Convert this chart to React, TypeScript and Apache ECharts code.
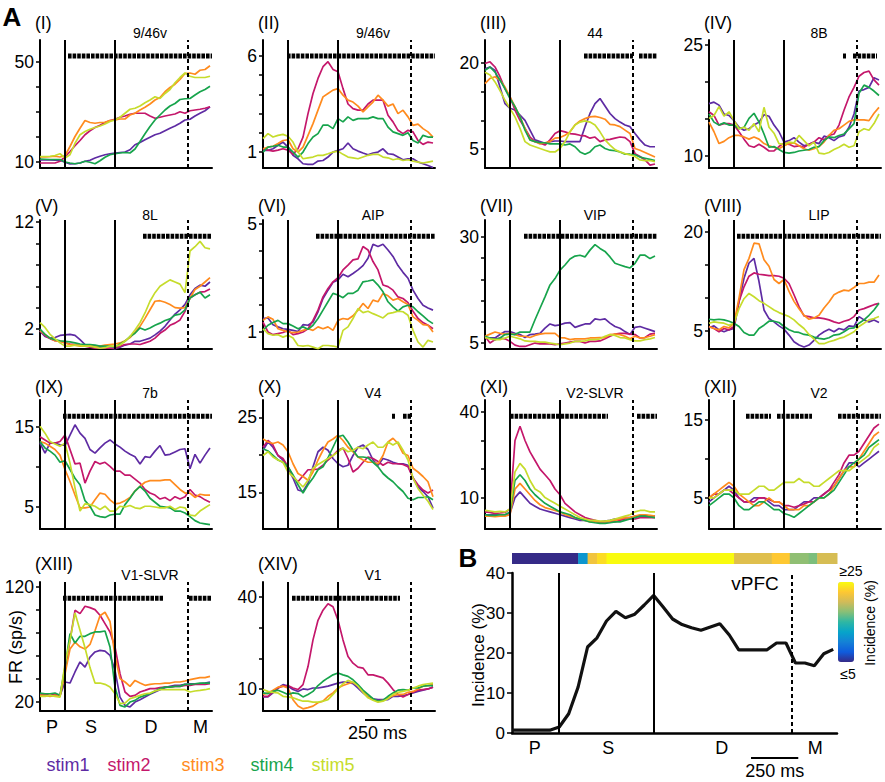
import React, { useEffect, useRef } from "react";
import * as echarts from "echarts";

const FONT = "'Liberation Sans', Arial, Helvetica, sans-serif";

// time grid (ms) for each trace sample
const TIMES = [0, 50, 100, 150, 200, 250, 300, 350, 400, 450, 500, 550, 600, 650, 700, 750, 800, 850, 900, 950, 1000, 1050, 1100, 1150, 1200, 1250, 1300, 1350, 1400, 1450, 1500, 1550, 1600, 1650, 1700];
const T_END = 1720;
const EVENT_S = 250;
const EVENT_D = 750;
const EVENT_M = 1480;

const STIM_NAMES = ["stim1", "stim2", "stim3", "stim4", "stim5"];
const STIM_COLORS = ["#5e2ba3", "#c4176b", "#ff8b1e", "#17a44c", "#c6dc2c"];

const PANEL_IDS = ["(I)", "(II)", "(III)", "(IV)", "(V)", "(VI)", "(VII)", "(VIII)", "(IX)", "(X)", "(XI)", "(XII)", "(XIII)", "(XIV)"];
const AREAS = ["9/46v", "9/46v", "44", "8B", "8L", "AIP", "VIP", "LIP", "7b", "V4", "V2-SLVR", "V2", "V1-SLVR", "V1"];
const Y_MIN = [7.6, 0.17, 1.7, 8.4, 0.13, 0.37, 3.6, 2.3, 2.25, 10.1, -1, 1, 12.2, 2.8];
const Y_MAX = [58.8, 6.83, 24, 25.7, 12.2, 5.15, 34, 21.8, 18.4, 27.3, 44.2, 17.6, 124.3, 44.9];
const Y_TICKS = [
  [10, 20, 30, 40, 50], [1, 2, 3, 4, 5, 6], [5, 10, 15, 20], [10, 15, 20, 25],
  [2, 4, 6, 8, 10, 12], [1, 2, 3, 4, 5], [5, 10, 15, 20, 25, 30], [5, 10, 15, 20],
  [5, 10, 15], [15, 20, 25], [10, 20, 30, 40], [5, 10, 15],
  [20, 40, 60, 80, 100, 120], [10, 20, 30, 40],
];
const Y_LABELS = [[10, 50], [1, 6], [5, 20], [10, 25], [2, 12], [1, 5], [5, 30], [5, 20], [5, 15], [15, 25], [10, 40], [5, 15], [20, 120], [10, 40]];
// significant time windows (ms)
const SIG = [
  [[280, 1720]], [[240, 1720]], [[990, 1480], [1540, 1720]], [[1340, 1370], [1440, 1680]],
  [[1030, 1720]], [[530, 1720]], [[390, 1720]], [[280, 1720]],
  [[230, 1720]], [[1290, 1320], [1400, 1480]], [[250, 1230], [1520, 1720]], [[370, 620], [680, 1030], [1290, 1720]],
  [[230, 1230], [1490, 1720]], [[290, 1370]],
];
const SIG_LEVEL = 0.875;

// stim1..stim5 per panel (sp/s)
const panelI = [
  [10.8, 10.8, 10.8, 10.7, 10.7, 9.9, 9.2, 9.3, 9.6, 10.3, 10.7, 11.6, 12.3, 12.9, 13.3, 13.6, 13.8, 14.0, 14.9, 16.9, 17.8, 18.9, 19.9, 20.9, 21.5, 22.5, 23.5, 24.4, 25.5, 26.8, 27.1, 28.4, 29.5, 30.5, 32.1],
  [9.6, 9.6, 9.6, 9.6, 10.3, 12, 14.2, 16.5, 18.6, 20.9, 22.5, 23.8, 24.7, 25.8, 26.6, 27.1, 27.9, 28.4, 29.1, 29.5, 29.5, 29.5, 28.4, 27.5, 27.9, 28.4, 28.8, 29.2, 30.1, 29.5, 30.5, 30.8, 31.1, 31.5, 32.1],
  [12, 12, 12.1, 12.3, 12, 12.5, 16.2, 20.2, 23.5, 26.6, 25.8, 25.5, 25.8, 25.9, 26.6, 26.8, 27.2, 27.2, 28.8, 29.5, 30.8, 31.9, 33.2, 34.8, 35.8, 38.1, 39.8, 41.1, 43, 45.4, 45.6, 45.1, 46.7, 47, 48.5],
  [11.2, 11.1, 11, 11, 11, 10, 9.6, 9.3, 9.6, 10.3, 9.9, 9.3, 10.5, 11.9, 12.9, 13.3, 13.6, 13.8, 13.6, 15.2, 18.2, 21.3, 24.2, 26.8, 28.8, 30.8, 32.4, 33.4, 35, 35.3, 35.4, 36.8, 38.1, 39, 40.3],
  [12.2, 12.2, 12.3, 12.6, 13.3, 11.6, 12.9, 17.5, 20.9, 22.2, 23.1, 23.8, 24.4, 25.2, 26.2, 26.8, 27.9, 29.5, 31.1, 31.5, 32.4, 33.7, 34.8, 36.1, 35.4, 37.4, 39, 41.7, 43.8, 45.6, 44.3, 43.8, 43.8, 43.8, 44.3],
];
const panelII = [
  [1.09, 1.09, 1.17, 1.35, 1.52, 1.26, 0.83, 0.65, 0.39, 0.36, 0.36, 0.53, 0.56, 0.74, 1.0, 1.09, 1.17, 1.47, 1.17, 1.05, 0.95, 0.86, 0.95, 1.0, 1.17, 0.91, 0.88, 0.74, 0.6, 0.65, 0.65, 0.48, 0.39, 0.3, 0.2],
  [1.17, 1.1, 1.05, 1.1, 1.17, 1.1, 0.88, 1.17, 1.78, 3.0, 4.05, 4.83, 5.44, 5.7, 5.3, 5.18, 4.3, 3.5, 3.26, 3.18, 3.18, 3.5, 3.7, 3.7, 3.7, 2.92, 2.57, 2.13, 1.96, 2.13, 2.05, 1.6, 1.4, 1.52, 1.47],
  [1.17, 1.26, 1.3, 1.44, 1.6, 1.64, 1.17, 1.0, 1.26, 1.87, 2.48, 3.18, 3.87, 4.05, 4.22, 4.3, 3.96, 3.7, 3.6, 3.39, 3.09, 3.35, 3.6, 3.96, 3.7, 3.39, 3.5, 3.0, 3.18, 2.83, 2.39, 2.45, 2.22, 2.05, 1.78],
  [1.0, 1.26, 1.3, 1.35, 1.26, 1.26, 1.0, 0.74, 1.0, 1.44, 1.78, 1.96, 2.4, 2.4, 2.22, 2.74, 2.57, 2.83, 2.65, 2.74, 2.74, 2.74, 2.83, 2.74, 2.74, 2.3, 2.05, 1.96, 1.87, 2.0, 1.6, 1.47, 1.87, 1.78, 1.78],
  [1.7, 1.96, 1.78, 1.87, 1.92, 1.82, 1.52, 1.0, 0.65, 0.7, 0.74, 0.83, 0.83, 0.91, 1.0, 1.05, 0.88, 0.74, 0.7, 0.65, 0.74, 0.83, 0.88, 0.88, 0.74, 0.7, 0.6, 0.65, 0.56, 0.6, 0.53, 0.48, 0.43, 0.48, 0.53],
];
const panelIII = [
  [19, 19.3, 18.7, 15.8, 12.9, 12.1, 11.8, 10.9, 10, 8.3, 6.6, 6.3, 6.0, 6.3, 6.4, 6.4, 6.3, 6.3, 6.3, 6.3, 8.9, 11.2, 12.9, 13.8, 12.5, 11.2, 10.3, 9.7, 9.2, 8.9, 7.7, 6.6, 5.7, 5.4, 5.4],
  [19.9, 20.2, 19.3, 17.6, 15.5, 14.1, 11.8, 10, 8.6, 7.1, 6.3, 6.0, 5.7, 6.6, 7.7, 8.2, 8.0, 7.7, 7.6, 7.4, 7.3, 6.9, 7.1, 6.3, 6.6, 6.7, 6.9, 7.1, 7.0, 6.3, 4.2, 3.7, 3.1, 2.2, 2.4],
  [16.4, 17.3, 17.6, 17, 15.8, 14.1, 12.4, 10.6, 8.6, 6.6, 6.3, 5.9, 6.1, 6.3, 6.9, 7, 7.4, 8, 9.2, 9.9, 10.3, 10.6, 10.7, 10.5, 10.2, 9.3, 9.2, 8.9, 8.3, 7.7, 5.1, 4.8, 4.4, 4.0, 3.6],
  [18.7, 19.3, 18.4, 17, 15.5, 13.8, 12.4, 10.6, 8.3, 6.6, 6.3, 6.1, 6.1, 5.9, 5.9, 5.9, 5.7, 5.9, 5.4, 4.5, 4.1, 4.5, 5.4, 5.7, 5.1, 4.8, 4.7, 4.5, 4.1, 4.1, 4.0, 3.6, 3.4, 3.2, 3.0],
  [18.4, 17.9, 16.7, 15.2, 13.5, 12.1, 10.6, 8.6, 6.3, 5.7, 5.4, 5.1, 4.8, 4.5, 4.5, 5.1, 6.3, 8, 9.2, 9.7, 9.9, 9.7, 9.2, 8, 6.6, 5.7, 4.9, 4.5, 4.2, 4.0, 3.7, 3.1, 3.0, 3.0, 2.8],
];
const panelIV = [
  [17.1, 17.3, 16.9, 15.7, 15.5, 14.8, 13.9, 13.5, 13.7, 14.2, 14.6, 15.6, 15.4, 14.2, 13.3, 11.9, 12.1, 12.5, 11.9, 11.4, 11.6, 11.9, 11.7, 12.7, 12.5, 12.1, 12.6, 12.8, 13.9, 15.7, 18.8, 19, 19.3, 20.6, 20.3],
  [16, 15.5, 14.2, 14.4, 14.4, 14.2, 13.3, 12.3, 11.4, 11.2, 11.6, 11.2, 10.7, 10.7, 11.3, 11.8, 11.6, 11.3, 11.4, 11.2, 11.6, 11.9, 12.5, 12.2, 12.8, 13, 14.2, 16.2, 18, 19.3, 20.8, 21.3, 21.5, 20.3, 19.6],
  [14.6, 13.3, 11.7, 12, 12.5, 12.8, 12.8, 12.6, 12.3, 12.6, 12.3, 11.7, 11.4, 11.2, 11, 11.4, 11.7, 11.8, 11.4, 11, 10.8, 11, 11.3, 11.9, 12.8, 13.5, 13.7, 14.2, 14.7, 14.9, 14.9, 14.9, 14.8, 15.8, 16.6],
  [15.7, 14.6, 14.2, 14.5, 14.2, 14.2, 13.7, 13.9, 15.1, 15.8, 14.6, 13, 11.2, 11.3, 10.9, 10.5, 10.4, 10.5, 10.7, 10.8, 10.9, 11.2, 11.3, 12.1, 12.6, 12.5, 12.8, 13, 13.7, 14.4, 18.5, 19.6, 19.3, 18.8, 18.2],
  [15.1, 15.5, 16.7, 15.4, 16, 14.8, 13.7, 13.9, 13.5, 14.4, 13.3, 16.6, 13.9, 13.1, 11.7, 11.6, 11.9, 11.8, 12.8, 12.1, 11.4, 11.9, 10.4, 10.3, 10.5, 10.9, 11.2, 11.6, 11.2, 11.4, 13.3, 13.7, 13.5, 14.4, 15.7],
];
const panelV = [
  [1.8, 1.3, 1.15, 1.2, 1.4, 1.45, 1.5, 1.4, 1.0, 0.55, 0.5, 0.4, 0.3, 0.2, 0.2, 0.15, 0.3, 0.5, 0.6, 0.85, 0.85, 1.0, 1.15, 1.45, 1.8, 2.25, 2.85, 3.4, 3.8, 4.3, 5.2, 5.8, 6.1, 6.0, 6.4],
  [1.85, 1.4, 1.1, 0.9, 0.85, 0.7, 0.6, 0.55, 0.5, 0.4, 0.3, 0.2, 0.2, 0.2, 0.2, 0.2, 0.4, 0.55, 0.6, 0.6, 0.55, 0.7, 0.85, 1.15, 1.6, 1.9, 2.35, 2.55, 2.85, 3.65, 4.9, 5.2, 5.45, 5.5, 5.75],
  [1.85, 1.5, 1.15, 0.9, 0.85, 0.7, 0.55, 0.5, 0.4, 0.4, 0.4, 0.4, 0.4, 0.5, 0.55, 0.6, 0.7, 0.9, 1.2, 1.7, 2.25, 3.0, 3.8, 4.6, 4.65, 4.5, 4.3, 4.0, 3.95, 4.0, 4.9, 5.7, 6.0, 6.4, 6.8],
  [2.0, 1.5, 1.15, 1.0, 0.9, 0.85, 0.8, 0.7, 0.6, 0.55, 0.55, 0.5, 0.4, 0.4, 0.4, 0.3, 0.6, 0.85, 1.3, 1.6, 2.1, 1.9, 2.1, 2.35, 2.55, 2.8, 2.95, 3.3, 3.4, 3.8, 4.9, 5.2, 5.45, 4.9, 5.2],
  [2.6, 2.15, 1.5, 1.1, 0.7, 0.4, 0.4, 0.5, 0.45, 0.4, 0.4, 0.3, 0.2, 0.25, 0.4, 0.4, 0.5, 0.85, 1.3, 1.9, 2.6, 3.5, 4.6, 5.4, 6.0, 6.3, 6.6, 6.4, 6.2, 5.4, 9.3, 9.7, 10.2, 9.6, 9.5],
];
const panelVI = [
  [1.5, 1.52, 1.27, 1.19, 1.12, 1.1, 1.06, 1.02, 1.27, 1.25, 1.37, 1.75, 2.24, 2.55, 2.84, 2.93, 3.14, 3.05, 3.17, 3.3, 3.46, 3.73, 4.25, 4.17, 4.25, 4.04, 3.8, 3.46, 3.21, 2.99, 2.55, 2.24, 1.99, 1.89, 1.81],
  [1.37, 1.0, 0.9, 0.94, 0.98, 1.06, 0.9, 0.94, 1.0, 1.12, 1.43, 1.81, 2.3, 2.61, 2.86, 3.01, 3.3, 3.48, 3.67, 3.71, 4.17, 4.04, 3.61, 3.3, 2.74, 2.68, 2.55, 2.3, 2.24, 2.09, 1.77, 1.5, 1.35, 1.25, 1.12],
  [1.43, 1.56, 1.47, 1.12, 1.06, 1.0, 0.98, 1.0, 1.06, 1.12, 1.06, 1.19, 1.12, 1.19, 1.06, 1.43, 1.5, 1.47, 1.6, 1.81, 2.06, 1.87, 2.18, 2.12, 2.43, 2.34, 2.18, 2.24, 2.12, 2.02, 1.56, 1.43, 1.27, 1.25, 1.0],
  [1.06, 1.25, 1.35, 1.43, 1.31, 1.31, 1.22, 1.12, 1.19, 1.1, 1.25, 1.5, 1.81, 2.12, 2.43, 2.37, 2.27, 2.43, 2.43, 2.55, 2.86, 2.89, 2.93, 2.74, 2.49, 2.12, 1.93, 1.77, 1.93, 1.99, 1.93, 1.75, 1.6, 1.43, 1.31],
  [1.12, 0.94, 0.88, 0.9, 0.81, 0.88, 0.78, 0.5, 0.48, 0.5, 0.44, 0.38, 0.5, 0.5, 0.48, 0.44, 1.06, 1.19, 1.5, 1.87, 1.72, 1.77, 1.68, 1.6, 1.52, 1.68, 1.72, 1.77, 1.75, 1.62, 1.06, 0.63, 0.44, 0.69, 0.63],
];
const panelVII = [
  [6.2, 6.2, 6.2, 7.0, 7.7, 7.7, 7.3, 7.0, 6.3, 7.0, 7.1, 7.3, 8.5, 9.5, 9.1, 9.3, 9.7, 9.8, 8.7, 9.1, 9.5, 9.5, 10.7, 10.5, 10.7, 9.7, 8.9, 8.5, 7.7, 7.0, 8.7, 8.9, 8.5, 8.1, 7.7],
  [6.6, 5.0, 5.8, 6.2, 6.0, 5.4, 4.5, 4.2, 4.2, 4.6, 5.0, 4.8, 4.8, 4.8, 4.6, 4.8, 5.0, 5.2, 5.4, 5.4, 5.0, 5.4, 5.4, 5.5, 6.0, 6.6, 7.1, 7.3, 7.3, 7.1, 7.0, 6.2, 6.3, 7.1, 7.3],
  [6.6, 7.1, 7.6, 7.3, 7.1, 7.3, 7.0, 6.6, 6.6, 6.3, 6.8, 7.1, 7.3, 7.3, 7.3, 6.3, 6.2, 5.8, 6.0, 6.0, 6.0, 6.2, 6.2, 6.3, 6.3, 7.0, 7.1, 7.0, 6.6, 6.0, 6.6, 6.2, 6.3, 6.6, 7.0],
  [6.6, 6.2, 5.8, 6.2, 7.0, 7.1, 7.0, 7.6, 7.6, 7.6, 10.5, 13.2, 15.9, 18.7, 20.2, 22.2, 23.4, 24.8, 25.5, 25.7, 25.3, 26.9, 28.2, 27.3, 26.6, 25.3, 23.8, 23.4, 23, 22.7, 23.8, 25.7, 25.7, 24.9, 25.5],
  [6.3, 6.0, 5.8, 5.8, 6.2, 6.6, 6.3, 6.0, 5.5, 5.4, 5.4, 5.2, 5.2, 5.0, 4.8, 4.6, 4.8, 5.0, 5.4, 5.4, 5.5, 5.8, 5.8, 6.0, 6.6, 7.0, 6.8, 6.3, 6.2, 5.8, 5.5, 5.5, 5.8, 6.0, 6.3],
];
const panelVIII = [
  [5.5, 5.8, 5.2, 4.9, 5.2, 5.4, 9.5, 13.0, 15.3, 16.0, 12.5, 8.2, 6.9, 6.4, 5.8, 5.3, 4.4, 3.4, 2.9, 2.6, 2.9, 3.6, 4.4, 4.9, 5.3, 4.9, 5.4, 5.2, 5.8, 5.7, 7.2, 6.7, 6.4, 6.7, 6.3],
  [5.7, 5.4, 4.9, 5.4, 5.2, 5.7, 9.5, 11.7, 13.3, 13.8, 13.6, 13.5, 13.4, 13.4, 13.3, 13, 12.2, 10.5, 8.7, 7.3, 7.2, 7.0, 7.0, 6.9, 6.7, 6.4, 6.2, 6.5, 6.7, 7.2, 8.2, 8.4, 8.7, 9.0, 9.2],
  [5.7, 5.4, 5.2, 5.7, 5.5, 6.2, 10, 14.3, 16, 18.3, 18.2, 15.8, 14.8, 12.8, 12.2, 12.8, 11, 9.5, 8.4, 7.4, 6.8, 7.0, 7.4, 8.5, 9.4, 10.5, 10.9, 11.2, 11.1, 11.6, 12.2, 12.2, 12.4, 12.4, 13.5],
  [6.8, 6.7, 6.8, 6.7, 6.5, 6.2, 5.7, 4.8, 4.4, 4.4, 5.4, 5.9, 6.5, 6.5, 6.3, 5.7, 5.2, 4.9, 4.8, 4.5, 4.4, 4.1, 3.9, 3.8, 4.0, 4.4, 4.5, 4.9, 5.4, 5.5, 6.2, 6.7, 7.4, 8.2, 9.2],
  [6.2, 6.4, 6.3, 6.2, 5.9, 6.2, 8.4, 9.9, 10.7, 10.2, 9.6, 9.2, 8.7, 8.2, 7.8, 7.5, 7.2, 6.7, 6.0, 5.4, 4.5, 3.8, 3.1, 3.1, 3.4, 3.6, 3.9, 4.1, 4.5, 4.9, 5.7, 6.2, 6.7, 6.9, 7.2],
];
const panelIX = [
  [13, 11.75, 13, 13, 12.8, 12.7, 14, 15.3, 14.25, 13.6, 12.2, 11.75, 12.4, 13, 13.4, 12.9, 12.5, 12, 11.6, 11.3, 10.4, 11.3, 11.2, 12, 12.7, 11.5, 11.6, 11.9, 12.2, 12.3, 9.8, 11.6, 10.5, 11.5, 12.4],
  [13.8, 13.4, 13, 13, 13.2, 14, 12.2, 10.4, 10.5, 8, 9.5, 10.7, 10.4, 10.6, 10.1, 9.5, 9.5, 9, 9, 8.5, 8, 7.2, 6.75, 6.5, 6, 6.2, 5.8, 6.3, 6, 6.3, 7.2, 6.5, 6.3, 5.9, 5.6],
  [13.2, 13, 12.6, 12.2, 11.5, 9.7, 8.2, 6.5, 4.9, 4.9, 5, 5.9, 6.75, 6.6, 5.9, 5.4, 5.5, 5.8, 6.2, 7, 7.6, 8.1, 8.3, 8.3, 8.3, 8.4, 8.4, 7.8, 7.2, 6.75, 6.75, 6.2, 6.6, 6.5, 6.5],
  [13.2, 12.4, 12, 11.5, 10.6, 10.8, 9.7, 8.6, 7.8, 5.8, 5.1, 4, 3.8, 3.7, 4, 4.1, 4.1, 5.3, 6.1, 7, 7.6, 7, 6.1, 5.6, 5.1, 5, 4.9, 4.5, 4.5, 4.25, 3.8, 3.3, 3, 2.9, 2.8],
  [15.1, 14.25, 13.2, 12.9, 12.6, 13, 10.5, 7.4, 4.5, 5.4, 5.3, 5.1, 4.7, 5.1, 4.5, 4.5, 5.1, 5, 5.2, 4.9, 4.8, 5.1, 5.1, 5, 4.9, 4.9, 5.1, 4.7, 5, 4.9, 4, 3.9, 4.5, 4.9, 5.3],
];
const panelX = [
  [20.6, 21.7, 21, 19.9, 19.3, 18.2, 16.9, 15.3, 15.1, 16.2, 18.4, 20.4, 21, 20.6, 19.5, 18.8, 18.4, 18.6, 19.9, 21, 21.3, 20.7, 19.3, 18.6, 19.5, 19.3, 19, 18.8, 18.8, 18.6, 16.9, 15.7, 15.1, 14.4, 12.9],
  [21, 21.9, 21.3, 19.9, 19.5, 18.4, 17.1, 16.4, 17.2, 18, 18, 18.1, 18.6, 19.3, 19.9, 20.6, 20.9, 19.5, 17.7, 18.2, 19, 19.7, 19.5, 19.1, 18.6, 19, 18.8, 18.8, 18.7, 18.4, 16.9, 16, 15.3, 14.9, 15.3],
  [22.1, 21.7, 21.5, 21.7, 21.3, 20.4, 18.8, 17.5, 17.1, 16.6, 17.7, 19.3, 20.6, 21.7, 22.1, 22.6, 21.9, 21, 20.4, 19.7, 19.3, 19, 19, 18.8, 19.9, 21.7, 22.2, 21.5, 20.2, 19.9, 18.2, 17.7, 17.1, 16.4, 14.4],
  [20.8, 20.5, 19.9, 19.3, 19, 18.4, 17.3, 16, 14.9, 16, 16.9, 18, 18.4, 19.6, 21, 22.4, 22.6, 21.7, 20.6, 19.7, 19.7, 19.6, 19, 18.4, 17.5, 16.9, 16.4, 15.7, 15.1, 14.2, 14, 14.3, 14.3, 14.4, 14],
  [19.9, 20.4, 19.7, 19.3, 19, 17.7, 17.1, 16.4, 15.7, 16.6, 18.2, 18.7, 19.1, 19.5, 19.9, 20.4, 20.9, 20.4, 20.6, 21, 20.8, 21.3, 21.7, 21, 21, 21.7, 21.3, 21.7, 20.6, 19.3, 16.9, 15.5, 14.6, 13.8, 12.7],
];
const panelXI = [
  [4, 4, 4.2, 4, 4, 4.5, 10, 12, 10, 8, 7, 6, 5.5, 5, 4.5, 4, 3.5, 3, 2.5, 2, 2, 1.8, 1.5, 1.5, 1.8, 2, 2.5, 2.5, 3, 3, 3.5, 3.5, 3.8, 3.5, 3.5],
  [5, 4.8, 4.5, 4.6, 4.8, 6, 30, 35, 30, 26, 23, 20, 18, 16, 13, 11, 8, 6.5, 5, 4, 3, 2.5, 2, 1.5, 1.5, 1.5, 1.5, 2, 2.5, 2.5, 2.5, 3, 3, 3, 3],
  [3.5, 3.5, 3.3, 3.5, 3.5, 4, 13, 15, 13, 11, 9, 7.5, 6.5, 6, 5.5, 5, 4, 3.5, 3, 2.5, 2, 1.5, 1.5, 1.5, 1.5, 1.8, 2, 2.5, 3, 3, 3.5, 4, 4, 3.8, 3.5],
  [4, 3.8, 3.8, 4, 4, 5, 16, 18, 16, 13, 11, 9.5, 8, 7, 6, 5, 4.5, 4, 3, 2.5, 2, 1.5, 1.2, 1, 1, 1.2, 1.5, 1.5, 2, 2.5, 3, 3.5, 3.5, 3.2, 3],
  [5.5, 5.3, 5, 5.2, 5, 6, 19, 22, 20, 16, 13, 12, 10, 9, 8, 7, 6, 5, 4, 3, 2.5, 2, 2, 1.8, 1.8, 2, 2.5, 3, 3.5, 4, 5, 5.5, 5.5, 5, 5],
];
const panelXII = [
  [4.5, 5, 5.5, 6, 6.5, 6, 5, 4.5, 4.5, 5, 5, 5, 4.5, 4, 4, 3.5, 3.5, 3.5, 4, 4.5, 4.5, 5, 5, 5.5, 6, 6.5, 7.5, 8.5, 9.5, 9.5, 9, 9.5, 10, 10.5, 11],
  [5, 5.5, 5.5, 6, 6, 5.5, 5, 4.5, 4.5, 4.5, 5, 5, 4.8, 4.5, 4.5, 4, 4, 3.8, 4, 4.2, 4.5, 4.5, 5, 5.5, 6, 7, 8, 9.5, 10.5, 10.5, 11, 12, 13, 14, 14.5],
  [5, 5.5, 6, 6.5, 7, 6.5, 5.5, 5, 4.5, 4, 4, 4.5, 5, 4.5, 4.5, 4, 3.5, 3.5, 3.5, 4, 4, 4.5, 5, 5, 5.5, 6.5, 7.5, 8.5, 9, 9, 10, 11, 12, 13, 13.5],
  [4, 4.5, 5, 5.5, 5.5, 5, 4, 3.5, 3.5, 4, 4.5, 4.5, 4, 3.5, 3.5, 3, 2.8, 2.5, 3, 3.5, 4, 4.5, 5, 5, 5.5, 6, 7, 8, 9, 9.5, 10, 10.5, 11.5, 12, 12.5],
  [5, 5, 5.5, 6, 6, 6, 5.5, 5.5, 5.5, 6, 6.5, 6.5, 6, 6, 6.5, 7, 7, 7, 7.5, 7, 7, 6.5, 6.5, 7, 7.5, 8, 8.5, 8.5, 8.5, 9, 9.5, 10, 10.5, 11.5, 12],
];
const panelXIII = [
  [26.7, 26.7, 25.8, 26.7, 25.8, 37.4, 36.5, 46.1, 54.8, 50.4, 59.1, 63.5, 64.9, 64.3, 60.6, 47.5, 24.3, 17.1, 15.7, 20, 22, 24.3, 26.7, 28.7, 30.7, 32.5, 33.6, 34.5, 34.5, 35.4, 35.9, 35.9, 35.9, 36.5, 37.4],
  [25.8, 26.7, 25.8, 26.7, 25.8, 47.5, 73.6, 99.7, 96.8, 103.2, 102, 100.3, 95.4, 88.1, 80.9, 67.8, 44.6, 28.7, 24.9, 25.8, 28.7, 30.1, 31.6, 31.6, 32.5, 33, 33, 33.6, 33.6, 34.5, 34.5, 35.4, 35.4, 35.4, 35.9],
  [25.8, 25.8, 24.9, 25.8, 24.9, 44.6, 66, 72, 68, 66, 70, 82, 95, 98, 90, 60, 40.3, 37.4, 33.6, 38.8, 36.5, 34.5, 35.4, 35.9, 35.9, 36.5, 36.5, 37.4, 37.4, 38.3, 39.4, 40.3, 41.2, 41.2, 42.3],
  [27.8, 27.2, 27.2, 27.8, 25.8, 50.4, 79.4, 71.3, 77.1, 77.1, 79.4, 80.9, 80.9, 81.7, 67.8, 33, 17.1, 15.7, 20, 21.4, 24.3, 25.8, 27.2, 29.6, 31.6, 33, 33, 33.6, 33.6, 35.4, 35.4, 35.9, 36.5, 36.5, 36.5],
  [24.9, 24.9, 25.8, 24.9, 24.3, 53.3, 73.6, 97.4, 82.3, 67.2, 49.9, 36.5, 36.5, 35.4, 33, 27.2, 18.6, 19.1, 22.9, 24.3, 25.8, 27.2, 27.8, 29.6, 30.7, 30.7, 30.7, 30.7, 30.7, 30.7, 28.7, 29.6, 30.1, 30.7, 31.6],
];
const panelXIV = [
  [7.4, 7.4, 8.7, 10.3, 11.4, 10.9, 9.8, 9.2, 10, 9.8, 10.3, 10.3, 10.6, 10.9, 11.4, 11.9, 12.2, 12.2, 11.7, 10.3, 8.7, 7.4, 6.8, 6.5, 6.5, 6.5, 7.6, 7.6, 7.8, 8.2, 8.7, 9.2, 9.6, 10, 10.6],
  [7.6, 7.6, 9.2, 10.3, 10.9, 11.1, 10.3, 9.8, 11.4, 17.3, 26, 32.4, 35.7, 37.8, 36.8, 32.4, 26, 20.6, 18.4, 17.1, 16.8, 14.6, 14.6, 14.1, 13.6, 11.9, 9.8, 8.2, 7.4, 8.2, 8.9, 9.6, 9.8, 10, 10.6],
  [8.2, 8.7, 9.6, 10.6, 10.9, 10.3, 6.5, 4.4, 3.5, 3.9, 4.4, 5.5, 6, 7.6, 8.7, 10.3, 11.1, 11.7, 12.2, 11.1, 9.2, 7.4, 6.5, 6, 6.3, 7.1, 7.8, 8.2, 8.2, 8.9, 9.2, 10, 10.9, 11.1, 11.4],
  [8.7, 8.5, 9.2, 9.6, 8.9, 8.2, 8.7, 8.5, 7.4, 8.2, 9.2, 11.1, 12.5, 13.6, 14.6, 15.2, 14.6, 14.1, 13, 11.4, 9.6, 8.2, 6.8, 6, 6.3, 7.6, 8.7, 9.6, 9.8, 9.6, 10.3, 10.3, 10.9, 11.1, 11.1],
  [9.8, 9.2, 8.9, 8.7, 7.6, 7.4, 7.1, 6.5, 6, 6, 5.7, 5.7, 6, 6.5, 8.2, 10, 11.7, 12.8, 12.2, 10.9, 8.9, 7.1, 6.3, 5.7, 6, 6.8, 8.2, 8.9, 9.2, 9.6, 10.3, 10.9, 11.4, 11.7, 11.9],
];
const PANEL_DATA = [panelI, panelII, panelIII, panelIV, panelV, panelVI, panelVII, panelVIII, panelIX, panelX, panelXI, panelXII, panelXIII, panelXIV];

// Panel B: vPFC incidence (%)
const B_INCIDENCE = [0.7, 0.7, 0.7, 0.7, 0.7, 1.5, 4.8, 11.5, 21.5, 23.8, 28, 30.4, 28.8, 29.7, 32, 34.4, 31.5, 28.5, 27.1, 26.3, 25.7, 26.5, 27.3, 24.5, 20.8, 20.8, 20.8, 20.8, 22.5, 22.5, 17.5, 17.5, 16.8, 19.8, 20.9];
const B_Y_TICKS = [0, 10, 20, 30, 40];
// colour strip: [start ms, end ms, incidence %]
const STRIP = [[0, 350, 5], [350, 400, 11.5], [400, 450, 21.8], [450, 500, 23.5], [500, 1175, 25], [1175, 1375, 20.8], [1375, 1470, 22.5], [1470, 1570, 17.8], [1570, 1615, 17.2], [1615, 1720, 20.3]];
const PARULA = ["#352a87", "#0f5cdd", "#1481d6", "#06a4ca", "#2eb7a4", "#87bf77", "#d1bb59", "#fec832", "#f9fb0e"];

const PHASES = ["P", "S", "D", "M"];
const PHASE_POS = [120, 510, 1110, 1605];
const SCALE_BAR = [1020, 1270];
const SCALE_BAR_B = [1265, 1515];

// layout
const COL_LEFT = [40, 263, 485, 709];
const ROW_TOP = [40, 220, 400, 582];
const ROW_H = [128, 129, 129, 129];
const PANEL_W = 172;
const LABEL_Y = [23, 206, 387, 564];
const TITLE_Y = [33, 215, 393, 575];
const B_LEFT = 512, B_TOP = 573, B_W = 325, B_H = 160;

function txt(x: number, y: number, text: string, size: number, o: any = {}) {
  const align = o.align || "center";
  return {
    type: "text", x, y, rotation: o.rotation || 0, silent: true, z: 100,
    style: {
      text, fill: o.color || "#000", fontSize: size, fontFamily: FONT, fontWeight: o.weight || "normal",
      align, verticalAlign: "middle", textAlign: align, textVerticalAlign: "middle",
    },
  };
}
function seg(x1: number, y1: number, x2: number, y2: number) {
  return { type: "line", silent: true, z: 100, shape: { x1, y1, x2, y2 }, style: { stroke: "#000", lineWidth: 2 } };
}

function eventLines(width: number) {
  return {
    silent: true, symbol: ["none", "none"], label: { show: false },
    lineStyle: { color: "#000", width, type: "solid" },
    emphasis: { disabled: true },
    data: [
      { xAxis: EVENT_S },
      { xAxis: EVENT_D },
      { xAxis: EVENT_M, lineStyle: { color: "#000", width, type: [4, 3] } },
    ],
  };
}

function buildOption() {
  const grid: any[] = [], xAxis: any[] = [], yAxis: any[] = [], series: any[] = [], graphic: any[] = [];
  const axisLineStyle = { color: "#000", width: 2 };

  PANEL_DATA.forEach((lines, i) => {
    const row = Math.floor(i / 4), col = i % 4;
    const left = COL_LEFT[col], top = ROW_TOP[row], height = ROW_H[row];
    grid.push({ left, top, width: PANEL_W, height });
    xAxis.push({
      type: "value", gridIndex: i, min: 0, max: T_END,
      axisLine: { show: true, onZero: false, lineStyle: axisLineStyle },
      axisTick: { show: false }, axisLabel: { show: false }, splitLine: { show: false },
    });
    yAxis.push({
      type: "value", gridIndex: i, min: Y_MIN[i], max: Y_MAX[i],
      axisLine: { show: true, onZero: false, lineStyle: axisLineStyle },
      axisTick: { show: true, inside: false, length: 4, customValues: Y_TICKS[i], lineStyle: { color: "#000", width: 1.5 } },
      axisLabel: { customValues: Y_LABELS[i], fontSize: 17.5, color: "#000", fontFamily: FONT, margin: 6 },
      splitLine: { show: false },
    });
    yAxis.push({ type: "value", gridIndex: i, min: 0, max: 1, show: false });
    lines.forEach((vals, s) => {
      series.push({
        name: STIM_NAMES[s], type: "line", xAxisIndex: i, yAxisIndex: 2 * i,
        data: vals.map((v, k) => [TIMES[k], v]),
        showSymbol: false, symbol: "none", silent: true, z: 2,
        lineStyle: { color: STIM_COLORS[s], width: 1.7 }, itemStyle: { color: STIM_COLORS[s] },
        markLine: s === 0 ? eventLines(2) : undefined,
      });
    });
    SIG[i].forEach(([a, b]) => {
      series.push({
        type: "line", xAxisIndex: i, yAxisIndex: 2 * i + 1, silent: true, z: 3,
        data: [[a, SIG_LEVEL], [b, SIG_LEVEL]], symbol: "none", showSymbol: false,
        lineStyle: { color: "#000", width: 5, type: [3.6, 1], cap: "butt" },
      });
    });
    graphic.push(txt(left - 5, LABEL_Y[row], PANEL_IDS[i], 17.5, { align: "left" }));
    graphic.push(txt(left + 110, TITLE_Y[row], AREAS[i], 14));
  });

  // Panel B
  const bIdx = PANEL_DATA.length;
  const bY = yAxis.length;
  grid.push({ left: B_LEFT, top: B_TOP, width: B_W, height: B_H });
  xAxis.push({
    type: "value", gridIndex: bIdx, min: 0, max: T_END,
    axisLine: { show: true, onZero: false, lineStyle: { color: "#000", width: 2.5 } },
    axisTick: { show: false }, axisLabel: { show: false }, splitLine: { show: false },
  });
  yAxis.push({
    type: "value", gridIndex: bIdx, min: 0, max: 40,
    axisLine: { show: true, onZero: false, lineStyle: { color: "#000", width: 2.5 } },
    axisTick: { show: true, length: 5, customValues: B_Y_TICKS, lineStyle: { color: "#000", width: 1.5 } },
    axisLabel: { customValues: B_Y_TICKS, fontSize: 17, color: "#000", fontFamily: FONT, margin: 7 },
    splitLine: { show: false },
  });
  series.push({
    type: "line", xAxisIndex: bIdx, yAxisIndex: bY, silent: true, z: 3,
    data: B_INCIDENCE.map((v, k) => [TIMES[k], v]), symbol: "none", showSymbol: false,
    lineStyle: { color: "#111", width: 3.2 }, markLine: eventLines(2),
  });

  // colour strip
  const sIdx = bIdx + 1;
  const sY = yAxis.length;
  grid.push({ left: B_LEFT, top: 553, width: B_W, height: 11 });
  xAxis.push({ type: "value", gridIndex: sIdx, min: 0, max: T_END, show: false });
  yAxis.push({ type: "value", gridIndex: sIdx, min: 0, max: 1, show: false });
  const stripSeries = series.length;
  series.push({
    type: "custom", xAxisIndex: sIdx, yAxisIndex: sY, silent: true,
    data: STRIP,
    encode: { x: [0, 1] },
    renderItem: (params: any, api: any) => {
      const p0 = api.coord([api.value(0), 1]);
      const p1 = api.coord([api.value(1), 0]);
      return {
        type: "rect",
        shape: { x: p0[0], y: p0[1], width: p1[0] - p0[0] + 0.5, height: p1[1] - p0[1] },
        style: { fill: api.visual("color") },
      };
    },
  });

  // annotation texts
  const col0 = COL_LEFT[0];
  const bottom4 = ROW_TOP[3] + ROW_H[3];
  PHASES.forEach((p, k) => {
    graphic.push(txt(col0 + (PHASE_POS[k] / T_END) * PANEL_W, bottom4 + 16, p, 18));
    graphic.push(txt(B_LEFT + (PHASE_POS[k] / T_END) * B_W, B_TOP + B_H + 15, p, 18));
  });
  const c1 = COL_LEFT[1];
  const sx1 = c1 + (SCALE_BAR[0] / T_END) * PANEL_W, sx2 = c1 + (SCALE_BAR[1] / T_END) * PANEL_W;
  graphic.push(seg(sx1, bottom4 + 9, sx2, bottom4 + 9));
  graphic.push(txt((sx1 + sx2) / 2, bottom4 + 22, "250 ms", 18));
  const bx1 = B_LEFT + (SCALE_BAR_B[0] / T_END) * B_W, bx2 = B_LEFT + (SCALE_BAR_B[1] / T_END) * B_W;
  graphic.push(seg(bx1, B_TOP + B_H + 25, bx2, B_TOP + B_H + 25));
  graphic.push(txt((bx1 + bx2) / 2, B_TOP + B_H + 38, "250 ms", 18));

  graphic.push(txt(16, 647, "FR (sp/s)", 18, { rotation: Math.PI / 2 }));
  const LEGEND_X = [68, 129, 203, 272, 333];
  STIM_NAMES.forEach((n, s) => graphic.push(txt(LEGEND_X[s], 765, n, 18, { color: STIM_COLORS[s] })));

  graphic.push(txt(12, 17, "A", 26, { weight: "bold" }));
  graphic.push(txt(468, 558, "B", 26, { weight: "bold" }));
  graphic.push(txt(478, 655, "Incidence (%)", 17, { rotation: Math.PI / 2 }));
  graphic.push(txt(755, 583, "vPFC", 19));
  graphic.push(txt(851, 571, "≥25", 14));
  graphic.push(txt(848, 674, "≤5", 14));
  graphic.push(txt(870, 623, "Incidence (%)", 14, { rotation: Math.PI / 2 }));

  return {
    animation: false,
    backgroundColor: "#fff",
    textStyle: { fontFamily: FONT },
    grid, xAxis, yAxis, series, graphic,
    visualMap: [{
      type: "continuous", min: 5, max: 25, dimension: 2, seriesIndex: stripSeries,
      inRange: { color: PARULA }, orient: "vertical", left: 838, top: 582,
      itemWidth: 16, itemHeight: 80, calculable: false, padding: 0, show: true,
      hoverLink: false,
    }],
  };
}

export default function App() {
  const ref = useRef<HTMLDivElement>(null);
  useEffect(() => {
    if (!ref.current) return;
    const chart = echarts.init(ref.current, null, { renderer: "svg" });
    chart.setOption(buildOption() as any);
    return () => chart.dispose();
  }, []);
  return <div ref={ref} style={{ position: "absolute", left: 0, top: 0, width: 885, height: 782, background: "#fff" }} />;
}
